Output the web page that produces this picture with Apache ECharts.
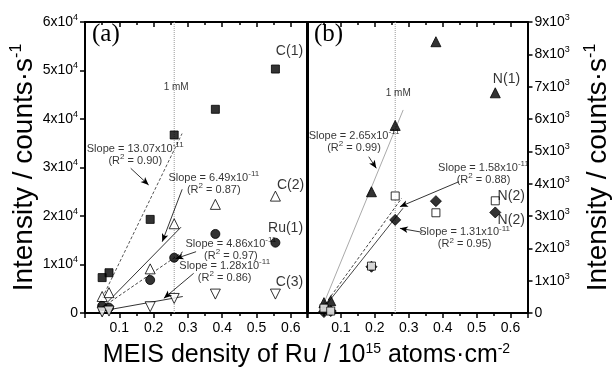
<!DOCTYPE html>
<html>
<head>
<meta charset="utf-8">
<script src="https://cdn.jsdelivr.net/npm/echarts@6/dist/echarts.min.js"></script>
<style>
  html, body { margin: 0; padding: 0; background: #fff; }
  #chart { width: 613px; height: 374px; }
</style>
</head>
<body>
<div id="chart"></div>
<script>
// MEIS density of Ru (10^15 atoms/cm2), same six samples in both panels
const density = [0.05, 0.07, 0.19, 0.26, 0.38, 0.555]

// panel (a), counts/s
const c1 = [7300, 8300, 19300, 36700, 42000, 50300]
const c2 = [3400, 4200, 9100, 18400, 22400, 24100]
const ru1 = [1450, 1100, 6800, 11400, 16300, 14500]
const c3 = [200, 400, 1300, 3000, 3900, 3900]

// panel (b), counts/s
const n1 = [320, 380, 3750, 5800, 8390, 6810]
const n2Open = [150, 60, 1450, 3620, 3100, 3470]
const n2Fill = [30, 60, 1430, 2880, 3460, 3110]

// fitted lines as drawn (start, end)
const fitC1 = [[0.038, 1300], [0.283, 37000]]
const fitC2 = [[0.04, 400], [0.28, 17700]]
const fitRu1 = [[0.039, 600], [0.285, 12600]]
const fitC3 = [[0.04, 300], [0.285, 3400]]
const fitN1 = [[0.042, 100], [0.2835, 6280]]
const fitN2Open = [[0.045, 150], [0.279, 3550]]
const fitN2Fill = [[0.045, 100], [0.283, 3240]]

const oneMM = 0.26

const FONT = '"Liberation Sans", Arial, sans-serif'
const sup = { s: { fontSize: 8, padding: [0, 0, 8, 0], fontFamily: FONT, color: '#000' } }
const tickSup = { s: { fontSize: 9, padding: [0, 0, 9, 0], fontFamily: FONT, color: '#000' } }

// annotation texts [x, y, text, fontSize]
const notesA = [
  [0.1464, 32600, 'Slope = 13.07x10{s|-11}\n(R{s|2} = 0.90)', 11],
  [0.3754, 26660, 'Slope = 6.49x10{s|-11}\n(R{s|2} = 0.87)', 11],
  [0.4252, 13030, 'Slope = 4.86x10{s|-11}\n(R{s|2} = 0.97)', 11],
  [0.4072, 8450, 'Slope = 1.28x10{s|-11}\n(R{s|2} = 0.86)', 11],
  [0.596, 54080, 'C(1)', 14],
  [0.599, 26390, 'C(2)', 14],
  [0.5846, 17460, 'Ru(1)', 14],
  [0.596, 6450, 'C(3)', 14],
  [0.2658, 46540, '1 mM', 10]
]
const notesB = [
  [0.1386, 5280, 'Slope = 2.65x10{s|-11}\n(R{s|2} = 0.99)', 11],
  [0.5203, 4310, 'Slope = 1.58x10{s|-11}\n(R{s|2} = 0.88)', 11],
  [0.4647, 2310, 'Slope = 1.31x10{s|-11}\n(R{s|2} = 0.95)', 11],
  [0.588, 7240, 'N(1)', 14],
  [0.602, 3620, 'N(2)', 14],
  [0.602, 2880, 'N(2)', 14],
  [0.269, 6795, '1 mM', 10]
]
const arrowsA = [
  [[0.1333, 29835], [0.1855, 26392]],
  [[0.2832, 25505], [0.2252, 14701]],
  [[0.3238, 12640], [0.2638, 11196]],
  [[0.3168, 8186], [0.2299, 3031]]
]
const arrowsB = [
  [[0.182, 4834], [0.2043, 4476]],
  [[0.4478, 4061], [0.2739, 3288]],
  [[0.3397, 2496], [0.2739, 2620]]
]

function pts(ys) {
  return density.map((x, i) => [x, ys[i]])
}

function xAx(grid, top) {
  return {
    type: 'value', gridIndex: grid, position: top ? 'top' : 'bottom',
    min: 0, max: 0.65, interval: 0.1,
    axisLine: { show: true, onZero: false, lineStyle: { color: '#000', width: 2 } },
    axisTick: { show: true, inside: top, length: 5, lineStyle: { color: '#000', width: 1.5 } },
    minorTick: { show: true, splitNumber: 2, length: 3, lineStyle: { color: '#000', width: 1.5 } },
    axisLabel: {
      show: !top, fontSize: 14, color: '#000', fontFamily: FONT, margin: 8,
      formatter: v => (v > 0.001 && v < 0.61) ? v.toFixed(1) : ''
    },
    splitLine: { show: false }
  }
}

function yAx(grid, pos, max, step, exp, withTicks) {
  return {
    type: 'value', gridIndex: grid, position: pos, min: 0, max: max, interval: step,
    axisLine: { show: true, onZero: false, lineStyle: { color: '#000', width: 2 } },
    axisTick: { show: withTicks, length: 5, lineStyle: { color: '#000', width: 1.5 } },
    axisLabel: {
      show: withTicks, fontSize: 14, color: '#000', fontFamily: FONT, margin: 7,
      formatter: v => v === 0 ? '0' : (v / step) + 'x10{s|' + exp + '}',
      rich: tickSup
    },
    splitLine: { show: false }
  }
}

function marks(ys, xi, yi, symbol, size, filled, rotate) {
  return {
    type: 'scatter', xAxisIndex: xi, yAxisIndex: yi, z: 4,
    symbol: symbol, symbolSize: size, symbolRotate: rotate || 0,
    itemStyle: { color: filled ? '#000' : '#fff', borderColor: '#000', borderWidth: 1 },
    data: pts(ys)
  }
}

function fit(line, xi, yi, color, type) {
  return {
    type: 'line', xAxisIndex: xi, yAxisIndex: yi, symbol: 'none', z: 3,
    lineStyle: { color: color, width: 1, type: type },
    data: line
  }
}

function notes(list, xi, yi) {
  return {
    type: 'scatter', xAxisIndex: xi, yAxisIndex: yi, symbolSize: 1, silent: true, z: 6,
    itemStyle: { color: 'transparent' },
    data: list.map(n => ({
      value: [n[0], n[1]],
      label: {
        show: true, position: 'inside', formatter: n[2], color: '#000',
        fontSize: n[3], fontFamily: FONT, align: 'center', lineHeight: n[3] + 1, rich: sup
      }
    }))
  }
}

function arrows(list, xi, yi) {
  return {
    type: 'line', xAxisIndex: xi, yAxisIndex: yi, data: [], silent: true,
    markLine: {
      silent: true, symbol: ['none', 'arrow'], symbolSize: [5, 8],
      lineStyle: { color: '#000', width: 0.8, type: 'solid' },
      label: { show: false },
      data: list.map(a => [{ coord: a[0] }, { coord: a[1] }])
    }
  }
}

const titleStyle = {
  fontSize: 28, color: '#000', fontFamily: FONT,
  rich: { s: { fontSize: 16, padding: [0, 0, 15, 0], fontFamily: FONT, color: '#000' } }
}

const chart = echarts.init(document.getElementById('chart'))
chart.setOption({
  animation: false,
  backgroundColor: '#fff',
  grid: [
    { left: 85, top: 22, width: 223, height: 291 },
    { left: 307, top: 22, width: 223, height: 291 }
  ],
  xAxis: [xAx(0, false), xAx(0, true), xAx(1, false), xAx(1, true)],
  yAxis: [
    Object.assign(yAx(0, 'left', 60000, 10000, 4, true), {
      name: 'Intensity / counts·s{s|-1}', nameLocation: 'middle', nameRotate: 90, nameGap: 45,
      nameTextStyle: titleStyle
    }),
    yAx(0, 'right', 60000, 10000, 4, false),
    yAx(1, 'left', 9000, 1000, 3, false),
    Object.assign(yAx(1, 'right', 9000, 1000, 3, true), {
      name: 'Intensity / counts·s{s|-1}', nameLocation: 'middle', nameRotate: 90, nameGap: 55,
      nameTextStyle: titleStyle
    })
  ],
  graphic: [
    { type: 'text', left: 'center', top: 342, style: {
        text: 'MEIS density of Ru / 10{s|15} atoms·cm{s|-2}', fontSize: 25, fontFamily: FONT, fill: '#000',
        rich: { s: { fontSize: 14, padding: [0, 0, 13, 0], fontFamily: FONT, fill: '#000' } } } },
    { type: 'text', left: 92, top: 22, style: { text: '(a)', fontSize: 25, fontFamily: '"Liberation Serif", serif', fill: '#000' } },
    { type: 'text', left: 314, top: 22, style: { text: '(b)', fontSize: 25, fontFamily: '"Liberation Serif", serif', fill: '#000' } }
  ],
  series: [
    // 1 mM guide lines
    fit([[oneMM, 0], [oneMM, 60000]], 0, 0, '#999', 'dotted'),
    fit([[oneMM, 0], [oneMM, 9000]], 2, 3, '#999', 'dotted'),
    // panel (a)
    fit(fitC1, 0, 0, '#555', [3, 2]),
    fit(fitC2, 0, 0, '#333', 'solid'),
    fit(fitRu1, 0, 0, '#444', [3, 2]),
    fit(fitC3, 0, 0, '#333', 'solid'),
    marks(c1, 0, 0, 'rect', 8, true),
    marks(c2, 0, 0, 'triangle', 10, false),
    marks(ru1, 0, 0, 'circle', 9, true),
    marks(c3, 0, 0, 'triangle', 10, false, 180),
    notes(notesA, 0, 0),
    arrows(arrowsA, 0, 0),
    // panel (b)
    fit(fitN1, 2, 3, '#aaa', 'solid'),
    fit(fitN2Open, 2, 3, '#444', [3, 2]),
    fit(fitN2Fill, 2, 3, '#444', 'solid'),
    marks(n1, 2, 3, 'triangle', 10, true),
    marks(n2Fill, 2, 3, 'diamond', 11, true),
    marks(n2Open, 2, 3, 'rect', 8, false),
    notes(notesB, 2, 3),
    arrows(arrowsB, 2, 3)
  ]
})
</script>
</body>
</html>
